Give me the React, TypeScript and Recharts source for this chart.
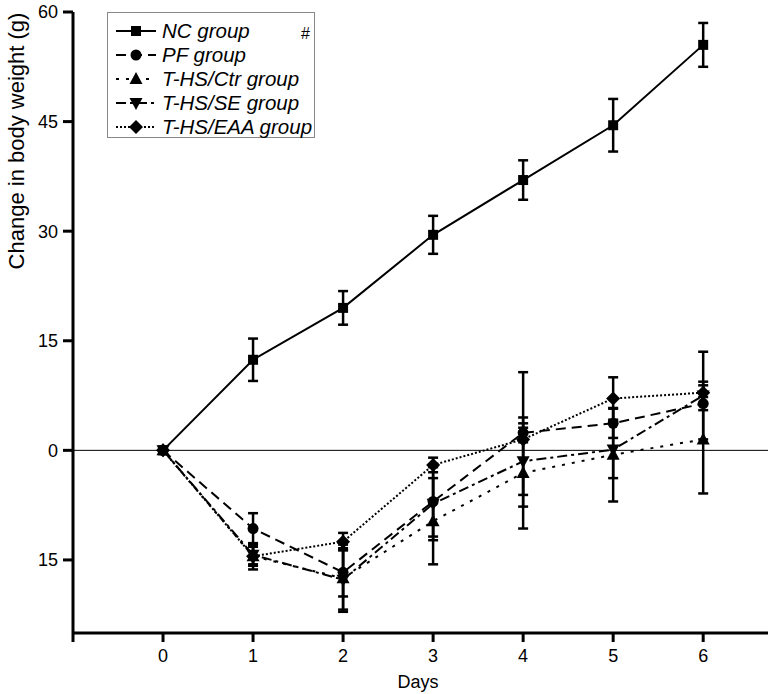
import { LineChart, Line, XAxis, YAxis, ErrorBar, ReferenceLine, Legend, Label } from "recharts";

// days after start
const days = [0, 1, 2, 3, 4, 5, 6];

// mean change in body weight (g) and error per group
const ncMean = [0, 12.4, 19.5, 29.5, 37.0, 44.5, 55.5];
const ncErr = [0, 2.9, 2.3, 2.6, 2.7, 3.6, 3.0];
const pfMean = [0, -10.7, -16.7, -7.0, 2.4, 3.7, 6.4];
const pfErr = [0, 2.1, 3.3, 4.8, 1.3, 2.0, 0.9];
const ctrMean = [0, -14.5, -17.5, -9.7, -3.1, -0.6, 1.5];
const ctrErr = [0, 1.8, 4.6, 5.9, 7.6, 6.4, 7.4];
const seMean = [0, -14.3, -17.7, -7.3, -1.5, 0.1, 7.5];
const seErr = [0, 1.3, 4.1, 5.0, 4.6, 3.9, 6.0];
const eaaMean = [0, -14.5, -12.5, -2.0, 1.5, 7.1, 7.9];
const eaaErr = [0, 1.3, 1.2, 1.0, 9.2, 2.9, 1.5];

const groupNames = ["NC group", "PF group", "T-HS/Ctr group", "T-HS/SE group", "T-HS/EAA group"];
const yTicks = [-15, 0, 15, 30, 45, 60];
const xTicks = [-1, 0, 1, 2, 3, 4, 5, 6];

const data = days.map((d, i) => ({
  day: d,
  nc: ncMean[i],
  ncErr: ncErr[i],
  pf: pfMean[i],
  pfErr: pfErr[i],
  ctr: ctrMean[i],
  ctrErr: ctrErr[i],
  se: seMean[i],
  seErr: seErr[i],
  eaa: eaaMean[i],
  eaaErr: eaaErr[i],
}));

const FONT = "'Liberation Sans', Arial, sans-serif";

type Shape = "square" | "circle" | "triangle" | "down" | "diamond";

const series: { key: string; shape: Shape; dash?: string }[] = [
  { key: "nc", shape: "square" },
  { key: "pf", shape: "circle", dash: "10 6" },
  { key: "ctr", shape: "triangle", dash: "3 7" },
  { key: "se", shape: "down", dash: "10 4 3 4" },
  { key: "eaa", shape: "diamond", dash: "2 2" },
];

function Marker({ shape, cx, cy }: { shape: Shape; cx: number; cy: number }) {
  if (shape === "square") return <rect x={cx - 5} y={cy - 5} width={10} height={10} fill="#000" />;
  if (shape === "circle") return <circle cx={cx} cy={cy} r={5.5} fill="#000" />;
  if (shape === "triangle")
    return <path d={`M${cx},${cy - 7} L${cx + 6.5},${cy + 5} L${cx - 6.5},${cy + 5} Z`} fill="#000" />;
  if (shape === "down")
    return <path d={`M${cx},${cy + 7} L${cx + 6.5},${cy - 5} L${cx - 6.5},${cy - 5} Z`} fill="#000" />;
  return <path d={`M${cx},${cy - 7} L${cx + 7},${cy} L${cx},${cy + 7} L${cx - 7},${cy} Z`} fill="#000" />;
}

function LegendBox() {
  return (
    <svg width={208} height={126} style={{ display: "block" }}>
      <rect x={0.5} y={0.5} width={207} height={125} fill="#fff" stroke="#888" />
      {series.map((s, i) => {
        const y = 19 + i * 24;
        return (
          <g key={s.key}>
            <line x1={9} x2={49} y1={y} y2={y} stroke="#000" strokeWidth={2} strokeDasharray={s.dash} />
            <Marker shape={s.shape} cx={29} cy={y} />
            <text x={55} y={y + 7} fontSize={20.5} fontStyle="italic" fontFamily={FONT} fill="#000">
              {groupNames[i]}
            </text>
          </g>
        );
      })}
      <text x={194} y={27} fontSize={16} fontFamily={FONT} fill="#000">#</text>
    </svg>
  );
}

export default function App() {
  return (
    <div style={{ position: "absolute", left: 0, top: 0, background: "#fff" }}>
      <LineChart width={773} height={694} data={data} margin={{ top: 12, right: 5, left: 0, bottom: 0 }}>
        <XAxis
          dataKey="day"
          type="number"
          domain={[-1, 6.72]}
          ticks={xTicks}
          allowDataOverflow
          tickFormatter={(v) => (v < 0 ? "" : String(v))}
          tick={{ fontSize: 18, fill: "#000", fontFamily: FONT }}
          axisLine={{ stroke: "#000", strokeWidth: 3 }}
          tickLine={{ stroke: "#000", strokeWidth: 3 }}
          tickSize={9}
          tickMargin={7}
          height={61}
        >
          <Label
            content={() => (
              <text x={418} y={688} textAnchor="middle" fontSize={18} fontFamily={FONT} fill="#000">
                Days
              </text>
            )}
          />
        </XAxis>
        <YAxis
          type="number"
          domain={[-25, 60]}
          ticks={yTicks}
          allowDataOverflow
          tickFormatter={(v) => String(Math.abs(v))}
          tick={{ fontSize: 18, fill: "#000", fontFamily: FONT }}
          axisLine={{ stroke: "#000", strokeWidth: 3 }}
          tickLine={{ stroke: "#000", strokeWidth: 3 }}
          tickSize={10}
          tickMargin={5}
          width={73}
        >
          <Label
            content={() => (
              <text
                x={24}
                y={141}
                transform="rotate(-90, 24, 141)"
                textAnchor="middle"
                fontSize={22}
                fontFamily={FONT}
                fill="#000"
              >
                Change in body weight (g)
              </text>
            )}
          />
        </YAxis>
        <ReferenceLine y={0} stroke="#000" strokeWidth={1} />
        <Legend
          layout="horizontal"
          verticalAlign="middle"
          align="center"
          content={() => <LegendBox />}
          wrapperStyle={{ position: "absolute", left: 107, top: 12, width: 208, height: 126 }}
        />
        {series.map((s) => (
          <Line
            key={s.key}
            dataKey={s.key}
            type="linear"
            stroke="#000"
            strokeWidth={2}
            strokeDasharray={s.dash}
            isAnimationActive={false}
            dot={(p: any) => <Marker key={`${s.key}-${p.index}`} shape={s.shape} cx={p.cx} cy={p.cy} />}
            activeDot={false}
          >
            <ErrorBar dataKey={`${s.key}Err`} width={5} stroke="#000" strokeWidth={2.5} direction="y" isAnimationActive={false} />
          </Line>
        ))}
      </LineChart>
    </div>
  );
}
